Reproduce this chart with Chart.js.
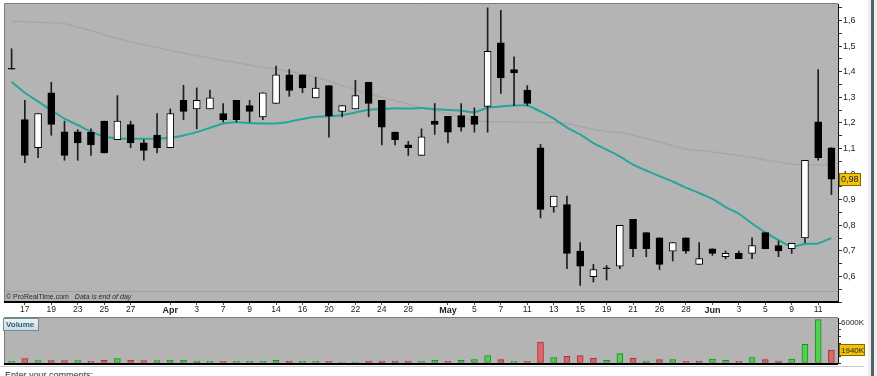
<!DOCTYPE html>
<html>
<head>
<meta charset="utf-8">
<script src="https://cdn.jsdelivr.net/npm/chart.js@4.4.1/dist/chart.umd.min.js"></script>
<style>
  html, body { margin: 0; padding: 0; background: #fff; }
  #wrap { position: relative; width: 877px; height: 376px; overflow: hidden; background: #fff; }
  canvas { position: absolute; left: 0; }
  #priceChart { top: 0; }
  #volChart { top: 317px; }
  #comments {
    position: absolute; left: 0; top: 366px; width: 864px; height: 14px;
    border-top: 1px solid #c8c8c8; box-sizing: border-box; padding: 3px 0 0 5px;
    font: 9px 'Liberation Sans', Arial, sans-serif; color: #333;
  }
  #edge { position: absolute; left: 868px; top: 0; width: 9px; height: 376px; background: #eeeeee; }
  #edge div { position: absolute; left: 3px; top: 0; width: 3px; height: 376px; background: #55606a; }
</style>
</head>
<body>
<div id="wrap">
  <canvas id="priceChart" width="877" height="317"></canvas>
  <canvas id="volChart" width="877" height="48"></canvas>
  <div id="comments">Enter your comments:</div>
  <div id="edge"><div></div></div>
</div>
<script>
// trading days (one per candle) and which of them get an axis label
const days = ['16', '17', '18', '19', '20', '23', '24', '25', '26', '27',
  '30', '31', 'Apr', '2', '3', '6', '7', '8', '9', '13',
  '14', '15', '16', '17', '20', '21', '22', '23', '24', '27',
  '28', '29', '30', 'May', '4', '5', '6', '7', '8', '11',
  '12', '13', '14', '15', '18', '19', '20', '21', '22', '26',
  '27', '28', '29', 'Jun', '2', '3', '4', '5', '8', '9',
  '10', '11', '12'];
const shownTicks = [1, 3, 5, 7, 9, 12, 14, 16, 18, 20, 22, 24, 26, 28, 30,
  33, 35, 37, 39, 41, 43, 45, 47, 49, 51, 53, 55, 57, 59, 61];
const monthNames = ['Apr', 'May', 'Jun'];

// OHLC
const opens = [1.41, 1.213, 1.103, 1.318, 1.165, 1.165, 1.164, 1.207, 1.135, 1.194,
  1.122, 1.153, 1.103, 1.288, 1.255, 1.255, 1.237, 1.288, 1.268, 1.224,
  1.276, 1.388, 1.388, 1.298, 1.346, 1.245, 1.255, 1.359, 1.288, 1.164,
  1.114, 1.073, 1.207, 1.226, 1.229, 1.226, 1.265, 1.513, 1.409, 1.328,
  1.103, 0.872, 0.881, 0.699, 0.599, 0.630, 0.640, 0.823, 0.771, 0.751,
  0.699, 0.751, 0.647, 0.708, 0.677, 0.690, 0.690, 0.771, 0.721, 0.708,
  0.751, 1.204, 1.103];
const highs = [1.49, 1.288, 1.237, 1.359, 1.207, 1.174, 1.177, 1.207, 1.307, 1.207,
  1.135, 1.237, 1.255, 1.347, 1.337, 1.328, 1.276, 1.288, 1.288, 1.318,
  1.422, 1.409, 1.388, 1.378, 1.346, 1.268, 1.367, 1.359, 1.288, 1.164,
  1.128, 1.177, 1.276, 1.226, 1.276, 1.259, 1.65, 1.64, 1.458, 1.346,
  1.116, 0.914, 0.914, 0.732, 0.647, 0.643, 0.800, 0.823, 0.771, 0.751,
  0.732, 0.751, 0.732, 0.708, 0.699, 0.699, 0.751, 0.771, 0.738, 0.729,
  1.054, 1.409, 1.103];
const lows = [1.41, 1.045, 1.064, 1.152, 1.054, 1.054, 1.073, 1.083, 1.135, 1.103,
  1.054, 1.083, 1.103, 1.213, 1.177, 1.255, 1.204, 1.204, 1.204, 1.213,
  1.276, 1.304, 1.318, 1.298, 1.144, 1.224, 1.255, 1.224, 1.114, 1.114,
  1.073, 1.073, 1.155, 1.122, 1.168, 1.164, 1.164, 1.315, 1.268, 1.268,
  0.829, 0.851, 0.630, 0.565, 0.578, 0.586, 0.630, 0.677, 0.677, 0.627,
  0.660, 0.690, 0.647, 0.682, 0.669, 0.669, 0.669, 0.708, 0.677, 0.690,
  0.732, 1.054, 0.920];
const closes = [1.41, 1.073, 1.237, 1.194, 1.073, 1.122, 1.114, 1.083, 1.207, 1.122,
  1.093, 1.103, 1.237, 1.245, 1.288, 1.298, 1.213, 1.213, 1.245, 1.318,
  1.388, 1.327, 1.337, 1.336, 1.226, 1.268, 1.307, 1.276, 1.183, 1.135,
  1.103, 1.146, 1.194, 1.164, 1.183, 1.194, 1.48, 1.376, 1.396, 1.276,
  0.862, 0.914, 0.690, 0.640, 0.627, 0.630, 0.800, 0.708, 0.708, 0.647,
  0.732, 0.699, 0.670, 0.690, 0.690, 0.669, 0.721, 0.708, 0.700, 0.729,
  1.054, 1.064, 0.98];

// moving averages as drawn (teal short, grey long)
const maShort = [1.361, 1.318, 1.284, 1.250, 1.217, 1.192, 1.166, 1.147, 1.140, 1.138,
  1.138, 1.139, 1.142, 1.151, 1.164, 1.181, 1.198, 1.203, 1.200, 1.198,
  1.198, 1.205, 1.215, 1.224, 1.226, 1.231, 1.241, 1.252, 1.254, 1.257,
  1.256, 1.258, 1.254, 1.251, 1.248, 1.242, 1.259, 1.264, 1.268, 1.268,
  1.245, 1.217, 1.182, 1.155, 1.121, 1.096, 1.069, 1.037, 1.014, 0.992,
  0.971, 0.947, 0.926, 0.903, 0.871, 0.845, 0.807, 0.772, 0.742, 0.716,
  0.727, 0.729, 0.750];
const maLong = [1.597, 1.596, 1.594, 1.592, 1.588, 1.575, 1.561, 1.545, 1.530, 1.516,
  1.506, 1.495, 1.483, 1.473, 1.463, 1.454, 1.444, 1.436, 1.426, 1.418,
  1.411, 1.401, 1.391, 1.379, 1.364, 1.346, 1.330, 1.315, 1.301, 1.288,
  1.274, 1.260, 1.248, 1.237, 1.223, 1.209, 1.205, 1.205, 1.204, 1.204,
  1.202, 1.202, 1.198, 1.186, 1.175, 1.166, 1.163, 1.153, 1.139, 1.125,
  1.111, 1.098, 1.092, 1.086, 1.080, 1.073, 1.065, 1.055, 1.047, 1.039,
  1.037, 1.037, 1.037];

// volume in thousands, 1 = up day (green), 0 = down day (red)
const volumes = [250, 650, 350, 350, 350, 350, 250, 400, 650, 400,
  350, 350, 450, 450, 300, 250, 250, 250, 250, 250,
  400, 300, 250, 250, 250, 150, 150, 300, 300, 300,
  300, 250, 400, 250, 400, 500, 1100, 500, 250, 250,
  3150, 800, 1000, 1100, 700, 400, 1400, 700, 300, 500,
  500, 250, 300, 600, 400, 250, 800, 500, 300, 600,
  2800, 6500, 1940];
const volUp = [1, 0, 1, 0, 0, 1, 0, 0, 1, 0,
  0, 1, 1, 1, 1, 1, 0, 1, 1, 1,
  1, 0, 1, 1, 0, 1, 1, 0, 0, 0,
  0, 1, 1, 0, 1, 1, 1, 0, 1, 0,
  0, 1, 0, 0, 0, 1, 1, 0, 1, 0,
  1, 0, 0, 1, 1, 0, 1, 0, 0, 1,
  1, 1, 0];
const volTicks = [0, 1000, 2000, 3000, 4000, 5000, 6000];

const FONT = "'Liberation Sans', Arial, sans-serif";
const PANEL = '#b4b4b4';

const bodies = opens.map((o, i) => [Math.min(o, closes[i]), Math.max(o, closes[i])]);
const wicks = lows.map((l, i) => [l, highs[i]]);
const bodyColors = opens.map((o, i) => closes[i] > o ? '#ffffff' : '#000000');

const fmt = v => v.toFixed(2).replace(/0$/, '').replace('.', ',');

const panelBg = {
  id: 'panelBg',
  beforeDraw(chart) {
    const { ctx, chartArea: a } = chart;
    ctx.save();
    ctx.fillStyle = PANEL;
    ctx.fillRect(a.left, a.top, a.right - a.left, a.bottom - a.top);
    ctx.strokeStyle = '#7c7c7c';
    ctx.lineWidth = 1;
    ctx.beginPath();
    ctx.moveTo(a.left - 0.5, a.bottom);
    ctx.lineTo(a.left - 0.5, a.top - 0.5);
    ctx.lineTo(a.right, a.top - 0.5);
    ctx.stroke();
    ctx.restore();
  }
};

const priceExtras = {
  id: 'priceExtras',
  afterDraw(chart) {
    const { ctx, chartArea: a, scales } = chart;
    ctx.save();
    // footer strip of the price panel
    ctx.strokeStyle = '#a2a2a2';
    ctx.beginPath();
    ctx.moveTo(a.left, 291.5);
    ctx.lineTo(a.right, 291.5);
    ctx.stroke();
    ctx.fillStyle = '#2a2a2a';
    ctx.textBaseline = 'middle';
    ctx.font = '7px ' + FONT;
    const credit = '\u00A9 ProRealTime.com';
    ctx.fillText(credit, 6, 297);
    const w = ctx.measureText(credit).width;
    ctx.font = 'italic 7px ' + FONT;
    ctx.fillText('Data is end of day', 6 + w + 6, 297);
    // last close marker
    const last = closes[closes.length - 1];
    const y = Math.round(scales.y.getPixelForValue(last));
    ctx.fillStyle = '#f0c20c';
    ctx.fillRect(a.right + 1, y - 6, 22, 13);
    ctx.strokeStyle = '#8a6a00';
    ctx.strokeRect(a.right + 1.5, y - 5.5, 21, 12);
    ctx.fillStyle = '#222';
    ctx.font = '9px ' + FONT;
    ctx.fillText(fmt(last), a.right + 3, y + 1);
    ctx.restore();
  }
};

new Chart(document.getElementById('priceChart'), {
  type: 'bar',
  data: {
    labels: days,
    datasets: [
      {
        data: bodies,
        backgroundColor: bodyColors,
        borderColor: '#000',
        borderWidth: 1,
        borderSkipped: false,
        barThickness: 7,
        minBarLength: 1,
        grouped: false,
        order: 0
      },
      {
        data: wicks,
        backgroundColor: '#1e1e1e',
        borderWidth: 0,
        barThickness: 1,
        grouped: false,
        order: 1
      },
      {
        type: 'line',
        data: maShort,
        borderColor: '#26a69a',
        borderWidth: 2,
        pointRadius: 0,
        tension: 0.2,
        order: 2
      },
      {
        type: 'line',
        data: maLong,
        borderColor: '#aaa6a6',
        borderWidth: 1.5,
        pointRadius: 0,
        tension: 0.2,
        order: 3
      }
    ]
  },
  options: {
    responsive: false,
    animation: false,
    events: [],
    layout: { padding: { left: 5, top: 4, right: 0, bottom: 0 } },
    plugins: { legend: { display: false }, tooltip: { enabled: false } },
    scales: {
      x: {
        offset: true,
        afterFit: s => { s.height = 15; },
        border: { display: true, color: '#000', width: 2 },
        grid: {
          offset: false,
          drawOnChartArea: false,
          drawTicks: true,
          tickLength: 3,
          color: c => shownTicks.includes(c.index) ? '#444' : 'rgba(0,0,0,0)'
        },
        ticks: {
          autoSkip: false,
          maxRotation: 0,
          padding: 0,
          color: '#222',
          font: c => ({
            family: FONT,
            size: monthNames.includes(days[c.index]) ? 9 : 8.5,
            weight: monthNames.includes(days[c.index]) ? 'bold' : 'normal'
          }),
          callback: (v, i) => shownTicks.includes(i) ? days[i] : ''
        }
      },
      y: {
        position: 'right',
        min: 0.5,
        max: 1.665,
        afterFit: s => { s.width = 39; s.paddingTop = 0; s.paddingBottom = 0; },
        border: { display: true, color: '#111', width: 1 },
        grid: { drawOnChartArea: false, drawTicks: true, tickLength: 4, color: '#333' },
        ticks: {
          stepSize: 0.05,
          includeBounds: false,
          autoSkip: false,
          padding: 1,
          color: '#222',
          font: { family: FONT, size: 9 },
          callback: v => {
            const r = Math.round(v * 100);
            if (r % 10 !== 0 || r < 60) return '';
            return (r / 100).toFixed(1).replace('.', ',');
          }
        }
      }
    }
  },
  plugins: [panelBg, priceExtras]
});

const volExtras = {
  id: 'volExtras',
  afterDraw(chart) {
    const { ctx, chartArea: a, scales } = chart;
    ctx.save();
    // bottom border
    ctx.fillStyle = '#000';
    ctx.fillRect(a.left - 1, a.bottom, a.right - a.left + 1, 2);
    // "Volume" tab
    const g = ctx.createLinearGradient(0, a.top, 0, a.top + 13);
    g.addColorStop(0, '#eef4f7');
    g.addColorStop(1, '#c9d8df');
    ctx.fillStyle = g;
    ctx.fillRect(3, a.top, 36, 13);
    ctx.strokeStyle = '#6f8c9a';
    ctx.strokeRect(3.5, a.top + 0.5, 35, 12);
    ctx.fillStyle = '#2b5f75';
    ctx.font = 'bold 8px ' + FONT;
    ctx.textBaseline = 'middle';
    ctx.fillText('Volume', 6, a.top + 7);
    // last volume marker
    const last = volumes[volumes.length - 1];
    const y = Math.round(scales.y.getPixelForValue(last));
    ctx.fillStyle = '#f0c20c';
    ctx.fillRect(a.right + 1, y - 6, 26, 12);
    ctx.strokeStyle = '#8a6a00';
    ctx.strokeRect(a.right + 1.5, y - 5.5, 25, 11);
    ctx.fillStyle = '#222';
    ctx.font = '8px ' + FONT;
    ctx.fillText(last + 'K', a.right + 3, y + 0.5);
    ctx.restore();
  }
};

new Chart(document.getElementById('volChart'), {
  type: 'bar',
  data: {
    labels: days,
    datasets: [{
      data: volumes,
      backgroundColor: volUp.map(u => u ? '#4fd24f' : '#e06464'),
      borderColor: volUp.map(u => u ? '#238a23' : '#a03535'),
      borderWidth: 1,
      barThickness: 6,
      borderSkipped: false
    }]
  },
  options: {
    responsive: false,
    animation: false,
    events: [],
    layout: { padding: { left: 5, top: 1, right: 0, bottom: 2 } },
    plugins: { legend: { display: false }, tooltip: { enabled: false } },
    scales: {
      x: { display: false, offset: true },
      y: {
        position: 'right',
        min: 0,
        max: 6750,
        afterBuildTicks: s => { s.ticks = volTicks.map(v => ({ value: v })); },
        afterFit: s => { s.width = 39; s.paddingTop = 0; s.paddingBottom = 0; },
        border: { display: true, color: '#111', width: 1 },
        grid: { drawOnChartArea: false, drawTicks: true, tickLength: 3, color: '#333' },
        ticks: {
          autoSkip: false,
          padding: 0,
          color: '#222',
          font: { family: FONT, size: 8 },
          callback: v => v === 6000 ? '6000K' : ''
        }
      }
    }
  },
  plugins: [panelBg, volExtras]
});
</script>
</body>
</html>
